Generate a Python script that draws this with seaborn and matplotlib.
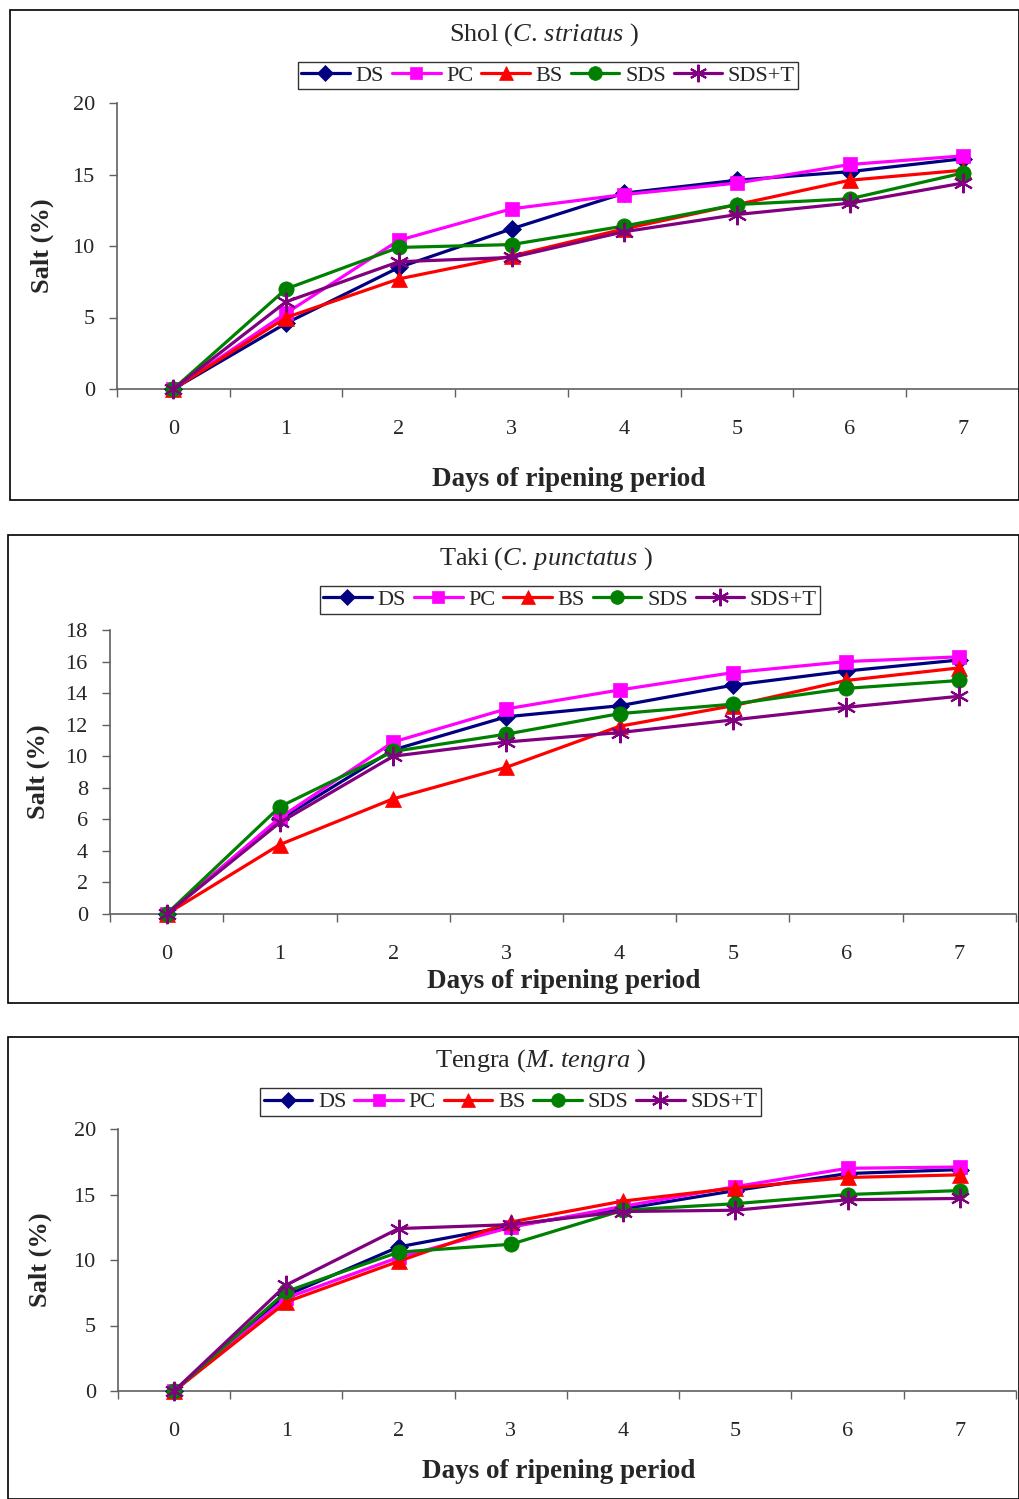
import matplotlib
matplotlib.use("Agg")
import matplotlib.pyplot as plt
import seaborn as sns
import pandas as pd
from matplotlib.lines import Line2D
from matplotlib.patches import Rectangle

days = [0, 1, 2, 3, 4, 5, 6, 7]
series_names = ["DS", "PC", "BS", "SDS", "SDS+T"]

# Shol (C. striatus)
shol_DS = [0, 4.6, 8.5, 11.2, 13.7, 14.6, 15.2, 16.1]
shol_PC = [0, 5.3, 10.4, 12.6, 13.6, 14.4, 15.7, 16.3]
shol_BS = [0, 5.0, 7.7, 9.3, 11.2, 12.9, 14.6, 15.3]
shol_SDS = [0, 7.0, 9.9, 10.1, 11.4, 12.9, 13.3, 15.1]
shol_SDST = [0, 6.1, 8.9, 9.2, 11.0, 12.2, 13.0, 14.4]

# Taki (C. punctatus)
taki_DS = [0, 6.0, 10.4, 12.5, 13.2, 14.5, 15.4, 16.1]
taki_PC = [0, 6.1, 10.9, 13.0, 14.2, 15.3, 16.0, 16.3]
taki_BS = [0, 4.4, 7.3, 9.3, 11.9, 13.2, 14.8, 15.6]
taki_SDS = [0, 6.8, 10.3, 11.4, 12.7, 13.3, 14.3, 14.8]
taki_SDST = [0, 5.8, 10.0, 10.9, 11.5, 12.3, 13.1, 13.8]

# Tengra (M. tengra)
teng_DS = [0, 7.3, 11.0, 12.6, 13.9, 15.3, 16.6, 16.9]
teng_PC = [0, 7.1, 10.2, 12.5, 14.1, 15.6, 17.0, 17.1]
teng_BS = [0, 6.8, 9.9, 12.9, 14.5, 15.5, 16.3, 16.5]
teng_SDS = [0, 7.6, 10.6, 11.2, 13.8, 14.3, 15.0, 15.3]
teng_SDST = [0, 8.1, 12.4, 12.7, 13.7, 13.8, 14.6, 14.7]

titles = ["Shol", "Taki", "Tengra"]
species = ["C.\\,striatus", "C.\\,punctatus", "M.\\,tengra"]
y_ticks = [[0, 5, 10, 15, 20], list(range(0, 19, 2)), [0, 5, 10, 15, 20]]

panels = [
    [shol_DS, shol_PC, shol_BS, shol_SDS, shol_SDST],
    [taki_DS, taki_PC, taki_BS, taki_SDS, taki_SDST],
    [teng_DS, teng_PC, teng_BS, teng_SDS, teng_SDST],
]

colors = ["#000080", "#FF00FF", "#FF0000", "#008000", "#800080"]
markers = ["D", "s", "^", "o", (6, 2, 0)]
msizes = [9, 10, 11, 11, 14]

sns.set_theme(style="white")
plt.rcParams["font.family"] = ["Liberation Serif", "DejaVu Serif"]
plt.rcParams["mathtext.fontset"] = "custom"
plt.rcParams["mathtext.rm"] = "Liberation Serif"
plt.rcParams["mathtext.it"] = "Liberation Serif:italic"

W, H = 1020, 1499
fig = plt.figure(figsize=(W / 100, H / 100), dpi=100)
fig.patch.set_facecolor("white")

def fx(px):
    return px / W

def fy(py):
    return 1 - py / H

# axes pixel boxes: left, right, top, bottom
boxes = [(117, 1019, 103, 389), (110, 1016, 630, 914), (118, 1016, 1129, 1391)]
frames = [(10, 1019, 10, 500), (8, 1019, 535, 1003), (8, 1019, 1037, 1499)]
title_pos = [(544, 35), (546, 559), (540, 1061)]
legend_pos = [(548, 75.5), (570, 600), (510.5, 1102)]
ylabel_x = [42, 38, 40]
xlabel_pos = [(569, 479), (564, 982), (559, 1472)]

for i in range(3):
    l, r, t, b = boxes[i]
    ax = fig.add_axes([fx(l), fy(b), fx(r - l), (b - t) / H])
    ax.set_facecolor("white")
    rows = []
    for name, vals in zip(series_names, panels[i]):
        for d, v in zip(days, vals):
            rows.append({"day": d, "salt": v, "series": name})
    df = pd.DataFrame(rows)
    for k, name in enumerate(series_names):
        sub = df[df["series"] == name]
        sns.lineplot(data=sub, x="day", y="salt", ax=ax, color=colors[k],
                     marker=markers[k], markersize=msizes[k],
                     markeredgecolor=colors[k], markerfacecolor=colors[k],
                     markeredgewidth=1.5 if k == 4 else 0.5,
                     linewidth=2.3, clip_on=False, legend=False, zorder=3 + k)
    ax.set_xlim(-0.5, 7.5)
    ax.set_ylim(0, y_ticks[i][-1])
    ax.set_xticks(days)
    ax.set_xticklabels([str(d) for d in days])
    ax.set_xticks([d - 0.5 for d in days] + [7.5], minor=True)
    ax.tick_params(axis="x", which="major", length=0, labelsize=16, pad=22)
    ax.tick_params(axis="x", which="minor", length=6, width=1, color="#606060",
                   direction="out", bottom=True)
    ax.set_yticks(y_ticks[i])
    ax.tick_params(axis="y", which="major", length=6, width=1, color="#606060",
                   direction="out", left=True, labelsize=16, pad=10)
    for s in ["top", "right"]:
        ax.spines[s].set_visible(False)
    for s in ["left", "bottom"]:
        ax.spines[s].set_color("#606060")
        ax.spines[s].set_linewidth(1.2)
    ax.set_xlabel("")
    ax.set_ylabel("")
    xlx, xly = xlabel_pos[i]
    fig.text(fx(xlx), fy(xly), "Days of ripening period",
             fontsize=19.5, fontweight="bold", ha="center", va="center")
    fig.text(fx(ylabel_x[i]), fy((t + b) / 2), "Salt (%)", rotation=90,
             fontsize=19, fontweight="bold", ha="center", va="center")
    tx, ty = title_pos[i]
    fig.text(fx(tx), fy(ty), titles[i] + r" ($\mathit{" + species[i] + r"}$ )",
             fontsize=19, ha="center", va="center")
    handles = [Line2D([0], [0], color=colors[k], marker=markers[k],
                      markersize=msizes[k] * 0.9, markerfacecolor=colors[k],
                      markeredgecolor=colors[k],
                      markeredgewidth=1.5 if k == 4 else 0.5, linewidth=2.3)
               for k in range(5)]
    lx, ly = legend_pos[i]
    leg = fig.legend(handles, series_names, loc="center",
                     bbox_to_anchor=(fx(lx), fy(ly)), ncol=5, frameon=True,
                     fancybox=False, edgecolor="black", fontsize=16,
                     handlelength=2.2, handletextpad=0.25, columnspacing=0.35,
                     borderpad=0.15, borderaxespad=0)
    leg.get_frame().set_linewidth(1.0)
    fl, fr, ft, fb = frames[i]
    fig.add_artist(Rectangle((fx(fl), fy(fb)), fx(fr - fl), (fb - ft) / H,
                             transform=fig.transFigure, fill=False,
                             edgecolor="black", linewidth=1.2))

fig.savefig("out.png", dpi=100)
